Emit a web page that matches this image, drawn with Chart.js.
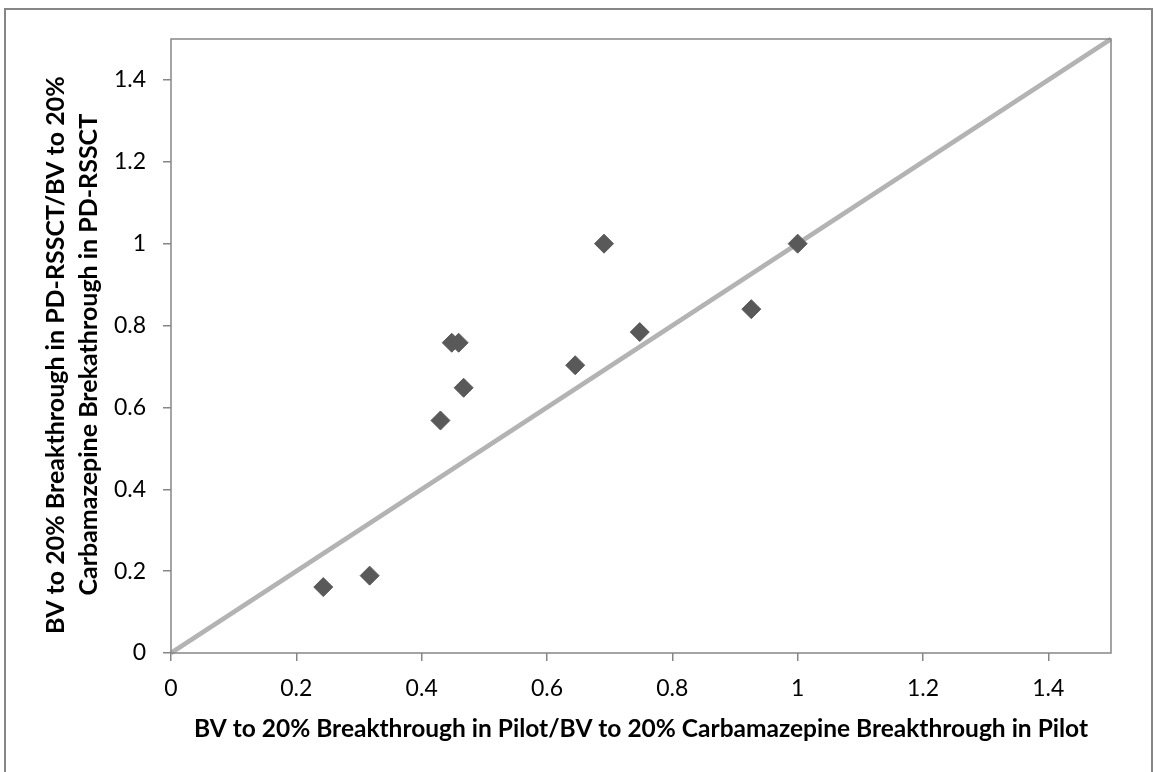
<!DOCTYPE html>
<html>
<head>
<meta charset="utf-8">
<title>PD-RSSCT vs Pilot</title>
<script src="https://cdn.jsdelivr.net/npm/chart.js@4.4.1/dist/chart.umd.min.js"></script>
<style>
	html, body { margin: 0; padding: 0; background: #fff; }
	#wrap { width: 1153px; height: 772px; }
</style>
</head>
<body>
<div id="wrap"><canvas id="chartBreakthrough"></canvas></div>
<script>
'use strict';

// ratios
const pilotRatio = [0.243, 0.317, 0.430, 0.448, 0.459, 0.467, 0.645, 0.691, 0.748, 0.926, 1.000];
const rssctRatio = [0.161, 0.189, 0.568, 0.758, 0.758, 0.648, 0.703, 1.000, 0.784, 0.840, 1.000];

// 1:1 line
const lineX = [0, 1.5];
const lineY = [0, 1.5];

const axisMin = 0;
const axisMax = 1.5;
const axisStep = 0.2;

const xTitle = 'BV to 20% Breakthrough in Pilot/BV to 20% Carbamazepine Breakthrough in Pilot';
const yTitle = ['BV to 20% Breakthrough in PD-RSSCT/BV to 20%', 'Carbamazepine Brekathrough in PD-RSSCT'];

const gray = '#868686';
const fontFamily = 'Lato, "Open Sans", sans-serif';

// frame round the plot area and round the whole chart
const framePlugin = {
	id: 'frames',
	beforeDraw: chart => {
		const ctx = chart.ctx;
		ctx.save();
		ctx.strokeStyle = gray;
		ctx.lineWidth = 2;
		ctx.strokeRect(5, 9, 1147, 780);
		ctx.restore();
	},
	afterDraw: chart => {
		const { ctx, chartArea } = chart;
		ctx.save();
		ctx.strokeStyle = gray;
		ctx.lineWidth = 1.5;
		ctx.strokeRect(chartArea.left, chartArea.top, chartArea.right - chartArea.left, chartArea.bottom - chartArea.top);
		ctx.restore();
	}
};

const toPoints = (xs, ys) => xs.map((x, i) => ({ x: x, y: ys[i] }));
const tickText = v => String(+v.toFixed(1));

new Chart(document.getElementById('chartBreakthrough').getContext('2d'), {
	type: 'scatter',
	data: {
		datasets: [
			{
				data: toPoints(pilotRatio, rssctRatio),
				pointStyle: 'rectRot',
				pointRadius: 9.5,
				pointHoverRadius: 9.5,
				backgroundColor: '#595959',
				borderColor: '#595959',
				borderWidth: 1,
				order: 0
			},
			{
				type: 'line',
				data: toPoints(lineX, lineY),
				borderColor: '#b3b3b3',
				borderWidth: 4.5,
				pointRadius: 0,
				fill: false,
				clip: false,
				order: 1
			}
		]
	},
	options: {
		responsive: true,
		maintainAspectRatio: false,
		animation: false,
		events: [],
		layout: {
			padding: { top: 39, right: 42, left: 0, bottom: 0 }
		},
		plugins: {
			legend: { display: false },
			tooltip: { enabled: false }
		},
		scales: {
			x: {
				type: 'linear',
				min: axisMin,
				max: axisMax,
				afterFit: scale => { scale.height = 119; },
				border: { display: false },
				grid: {
					display: true,
					drawOnChartArea: false,
					drawTicks: true,
					tickLength: 8,
					color: gray,
					lineWidth: 1.5
				},
				ticks: {
					stepSize: axisStep,
					includeBounds: false,
					padding: 14,
					color: '#000',
					font: { family: fontFamily, size: 23 },
					callback: tickText
				},
				title: {
					display: true,
					text: xTitle,
					color: '#000',
					font: { family: fontFamily, size: 24.5, weight: 'bold', lineHeight: 1.2 },
					padding: { top: 0, bottom: 28 }
				}
			},
			y: {
				type: 'linear',
				min: axisMin,
				max: axisMax,
				afterFit: scale => { scale.width = 171; },
				border: { display: false },
				grid: {
					display: true,
					drawOnChartArea: false,
					drawTicks: true,
					tickLength: 8,
					color: gray,
					lineWidth: 1.5
				},
				ticks: {
					stepSize: axisStep,
					includeBounds: false,
					padding: 17,
					color: '#000',
					font: { family: fontFamily, size: 23 },
					callback: tickText
				},
				title: {
					display: true,
					// trailing spaces nudge the rotated text down a little, like in the original
					text: yTitle.map(t => t + '\u00a0\u00a0\u00a0'),
					color: '#000',
					font: { family: fontFamily, size: 25, weight: 'bold', lineHeight: 33 / 25 },
					padding: { top: 39.5, bottom: 0 }
				}
			}
		}
	},
	plugins: [framePlugin]
});
</script>
</body>
</html>
